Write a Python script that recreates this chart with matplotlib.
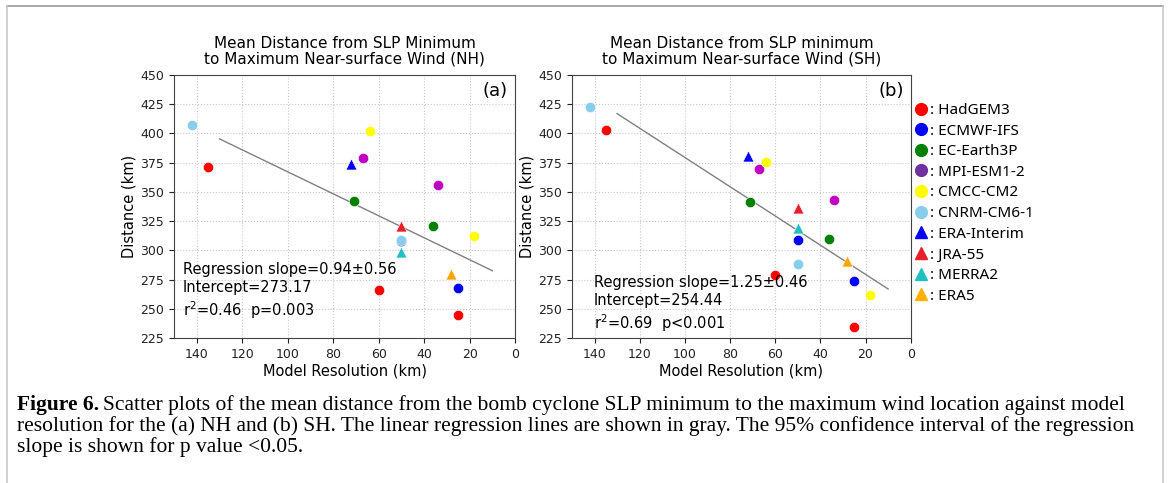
import matplotlib

matplotlib.use("Agg")
import matplotlib.pyplot as plt
from matplotlib.lines import Line2D
from matplotlib.text import Annotation

# one entry per plotted point (same resolutions for both hemispheres)
point_source = [
    "HadGEM3", "HadGEM3", "HadGEM3",
    "ECMWF-IFS", "ECMWF-IFS",
    "EC-Earth3P", "EC-Earth3P",
    "MPI-ESM1-2", "MPI-ESM1-2",
    "CMCC-CM2", "CMCC-CM2",
    "CNRM-CM6-1", "CNRM-CM6-1",
    "ERA-Interim", "JRA-55", "MERRA2", "ERA5",
]
resolution_km = [135, 60, 25, 50, 25, 71, 36, 67, 34, 64, 18, 142, 50, 72, 50, 50, 28]
nh_distance_km = [371, 266, 245, 308, 268, 342, 321, 379, 356, 402, 312, 407, 309, 374, 321, 299, 280]
sh_distance_km = [403, 279, 234, 309, 274, 341, 310, 370, 343, 376, 262, 423, 288, 381, 336, 319, 291]

# regression results printed on each panel
nh_slope, nh_slope_ci, nh_intercept, nh_r2, nh_p = 0.94, 0.56, 273.17, 0.46, "=0.003"
sh_slope, sh_slope_ci, sh_intercept, sh_r2, sh_p = 1.25, 0.46, 254.44, 0.69, "<0.001"
fit_range_km = [130, 10]

legend_names = [
    "HadGEM3", "ECMWF-IFS", "EC-Earth3P", "MPI-ESM1-2", "CMCC-CM2",
    "CNRM-CM6-1", "ERA-Interim", "JRA-55", "MERRA2", "ERA5",
]

point_color = {
    "HadGEM3": "#ff0000",
    "ECMWF-IFS": "#0000ff",
    "EC-Earth3P": "#008000",
    "MPI-ESM1-2": "#c000c0",
    "CMCC-CM2": "#ffff00",
    "CNRM-CM6-1": "#87ceeb",
    "ERA-Interim": "#0000ff",
    "JRA-55": "#e8202a",
    "MERRA2": "#20c0c0",
    "ERA5": "#ffa500",
}
legend_color = dict(point_color, **{"MPI-ESM1-2": "#7030a0", "ERA5": "#ffb000"})
reanalysis_names = {"ERA-Interim", "JRA-55", "MERRA2", "ERA5"}

fig = plt.figure(figsize=(11.68, 4.83), dpi=100)
ax_nh = fig.add_axes([0.149, 0.3002, 0.292, 0.5445])
ax_sh = fig.add_axes([0.4897, 0.3002, 0.290, 0.5445])


def draw_panel(ax, distances, slope, slope_ci, intercept, r2, p_text, title, tag, text_x, text_y):
    for name in legend_names:
        xs = [r for r, s in zip(resolution_km, point_source) if s == name]
        ys = [d for d, s in zip(distances, point_source) if s == name]
        marker = "^" if name in reanalysis_names else "o"
        ax.scatter(xs, ys, s=55 if marker == "o" else 62, marker=marker,
                   color=point_color[name], edgecolors="white", linewidths=0.4, zorder=3)

    fit_y = [intercept + slope * x for x in fit_range_km]
    ax.plot(fit_range_km, fit_y, color="gray", linewidth=1.0, zorder=2)

    ax.set_xlim(150, 0)
    ax.set_ylim(225, 450)
    ax.set_xticks(range(140, -1, -20))
    ax.set_yticks(range(225, 451, 25))
    ax.tick_params(labelsize=9, colors="#222222")
    ax.grid(True, linestyle=":", color="#c8c8c8", linewidth=0.8)
    for spine in ax.spines.values():
        spine.set_color("#444444")
    ax.set_xlabel("Model Resolution (km)", fontsize=10.5, labelpad=2)
    ax.set_ylabel("Distance (km)", fontsize=10.5, labelpad=3)
    ax.set_title(title, fontsize=11, pad=8, linespacing=1.1)
    ax.text(0.979, 0.975, tag, transform=ax.transAxes, ha="right", va="top", fontsize=13)
    stats = (f"Regression slope={slope:.2f}\u00b1{slope_ci:.2f}\n"
             f"Intercept={intercept:.2f}\n"
             f"r$^2$={r2:.2f}  p{p_text}")
    ax.text(text_x, text_y, stats, transform=ax.transAxes, ha="left", va="center",
            fontsize=10.5, linespacing=1.25)


draw_panel(ax_nh, nh_distance_km, nh_slope, nh_slope_ci, nh_intercept, nh_r2, nh_p,
           "Mean Distance from SLP Minimum\nto Maximum Near-surface Wind (NH)", "(a)", 0.026, 0.178)
draw_panel(ax_sh, sh_distance_km, sh_slope, sh_slope_ci, sh_intercept, sh_r2, sh_p,
           "Mean Distance from SLP minimum\nto Maximum Near-surface Wind (SH)", "(b)", 0.065, 0.128)

handles = [
    Line2D([], [], linestyle="", marker="^" if n in reanalysis_names else "o",
           markersize=8.5, color=legend_color[n])
    for n in legend_names
]
fig.legend(handles, [f": {n}" for n in legend_names], loc="upper left",
           bbox_to_anchor=(0.782, 0.787), frameon=False, handlelength=1.0,
           handletextpad=0.1, labelspacing=0.37, borderpad=0, borderaxespad=0,
           prop={"family": "Noto Sans", "size": 11})

# page frame around the figure
frame_kw = dict(transform=fig.transFigure, linewidth=1.2)
fig.add_artist(Line2D([0.006, 0.9957], [0.9876, 0.9876], color="#999999", **frame_kw))
fig.add_artist(Line2D([0.006, 0.006], [0.0, 0.9876], color="#c8c8c8", **frame_kw))
fig.add_artist(Line2D([0.9957, 0.9957], [0.0, 0.9876], color="#c8c8c8", **frame_kw))

# caption
cap_kw = dict(family="Liberation Serif", size=15.5)
bold = fig.text(0.0146, 1 - 410 / 483, "Figure 6.", weight="bold", va="baseline", **cap_kw)
rest = Annotation(
    "Scatter plots of the mean distance from the bomb cyclone SLP minimum to the "
    "maximum wind location against model",
    xy=(1, 0), xycoords=bold, xytext=(4, 0), textcoords="offset pixels", va="bottom", **cap_kw)
fig.add_artist(rest)
fig.text(0.0146, 1 - 431 / 483,
         "resolution for the (a) NH and (b) SH. The linear regression lines are shown in gray. "
         "The 95% confidence interval of the regression", va="baseline", **cap_kw)
fig.text(0.0146, 1 - 452 / 483, "slope is shown for p value <0.05.", va="baseline", **cap_kw)

fig.savefig("out.png", dpi=100)
plt.close(fig)
